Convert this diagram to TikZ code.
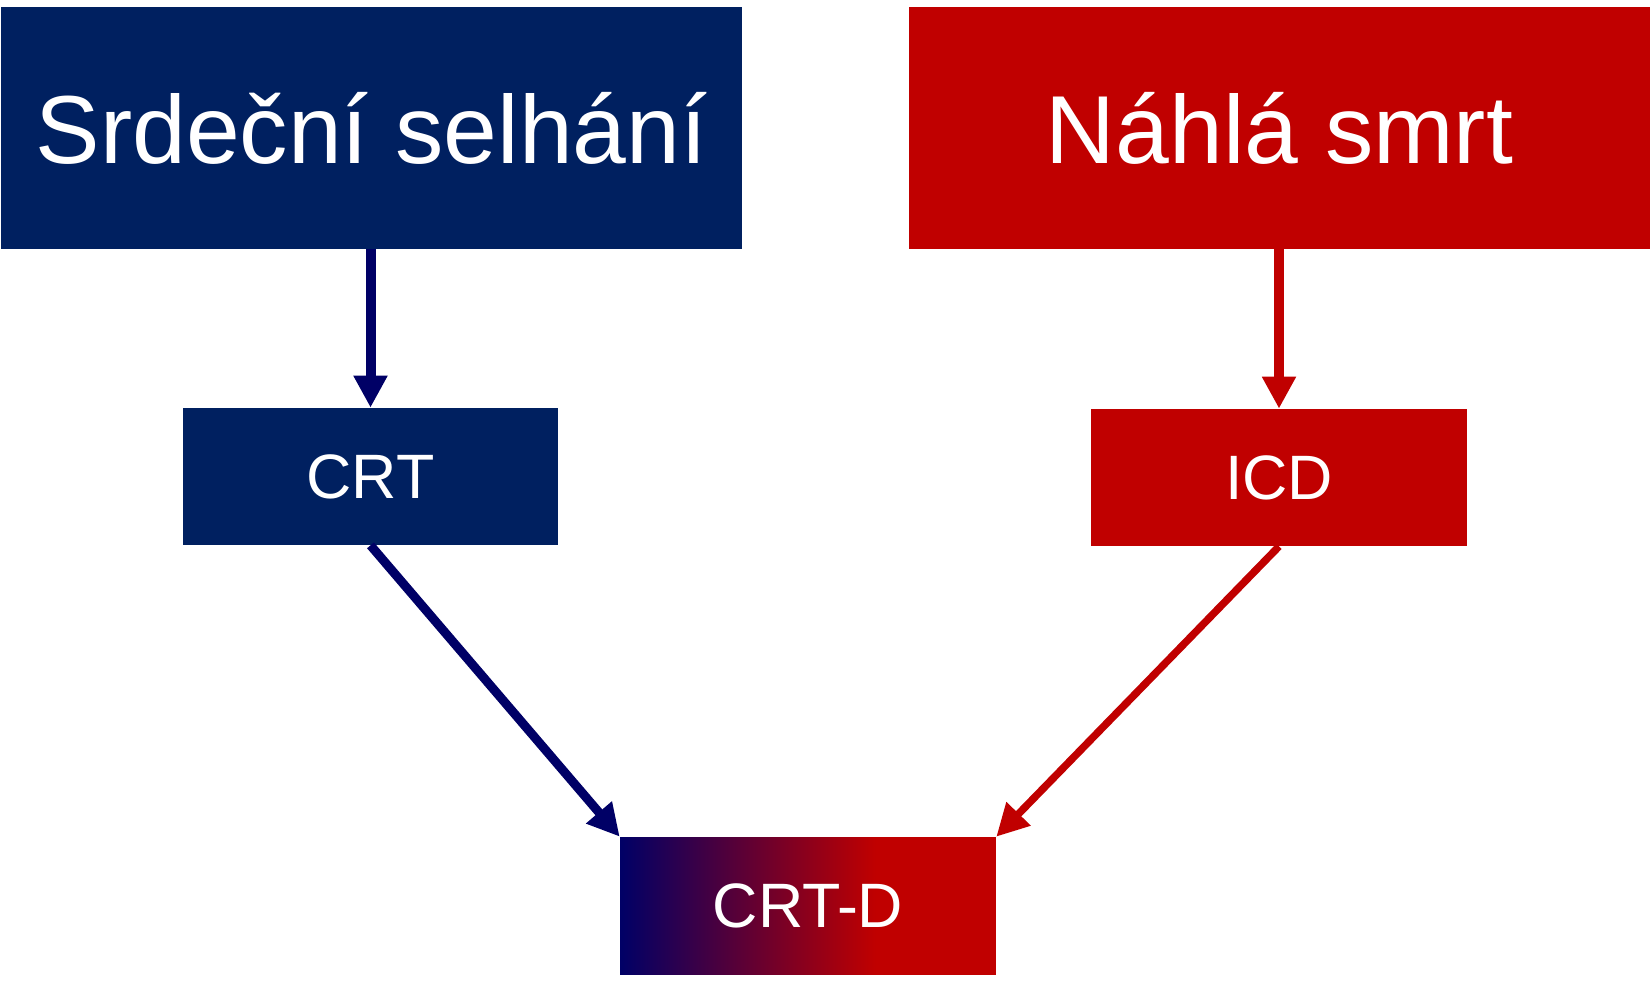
\documentclass[tikz,border=0pt]{standalone}
\usepackage{fontspec}
\setmainfont{Liberation Sans}
\usetikzlibrary{arrows.meta}
\definecolor{boxblue}{RGB}{0,32,96}
\definecolor{arrowblue}{RGB}{0,0,102}
\definecolor{boxred}{RGB}{192,0,0}
\pgfdeclarehorizontalshading{bluered}{100bp}{color(0bp)=(arrowblue); color(25bp)=(arrowblue); color(59bp)=(boxred); color(100bp)=(boxred)}

\begin{document}
\begin{tikzpicture}[x=0.02cm,y=-0.02cm,
    bigbox/.style={inner sep=0pt,minimum width=14.82cm,minimum height=4.84cm,text=white,font=\fontsize{55}{63}\selectfont},
    smallbox/.style={inner sep=0pt,minimum width=7.52cm,minimum height=2.74cm,text=white,font=\fontsize{35.7}{42}\selectfont},
    stream/.style={-{Triangle[length=0.64cm,width=0.64cm]}}]
    %myborder
    \useasboundingbox (0,0) rectangle (1652,981);

    %causes
    \node[bigbox,fill=boxblue] (heartfail) at (371.5,128) {Srdeční selhání};
    \node[bigbox,fill=boxred] (suddendeath) at (1279.5,128) {Náhlá smrt};

    %devices
    \node[smallbox,fill=boxblue] (crt) at (370.5,476.5) {CRT};
    \node[smallbox,fill=boxred] (icd) at (1279,477.5) {ICD};
    \node[smallbox,shading=bluered] (crtd) at (808,905.5) {CRT-D};

    %arrows
    \draw [stream,arrowblue,line width=0.2cm] (heartfail.south -| crt.north) -- (crt.north);
    \draw [stream,boxred,line width=0.2cm] (suddendeath.south -| icd.north) -- (icd.north);
    \draw [stream,arrowblue,line width=0.18cm] (crt.south) -- (crtd.north west);
    \draw [stream,boxred,line width=0.15cm] (icd.south) -- (crtd.north east);

  \end{tikzpicture}
\end{document}
